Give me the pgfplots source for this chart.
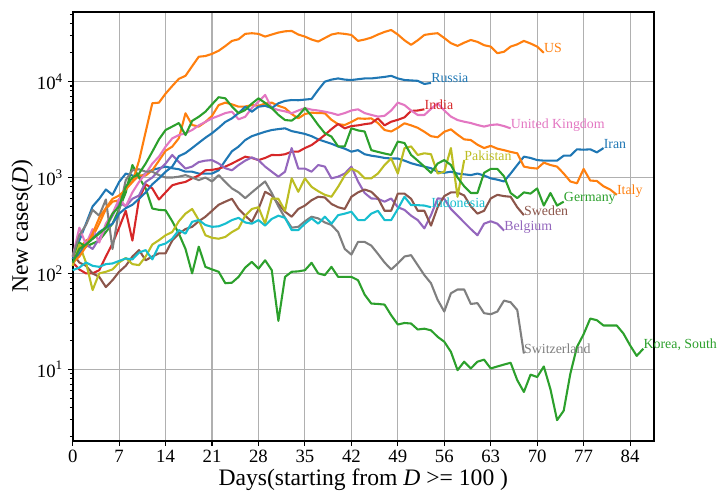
\documentclass[border=0pt]{standalone}
\usepackage{fontspec}
\setmainfont{Liberation Serif}
\usepackage{pgfplots}
\pgfplotsset{compat=1.18}
\definecolor{cblue}{HTML}{1F77B4}
\definecolor{corange}{HTML}{FF7F0E}
\definecolor{cgreen}{HTML}{2CA02C}
\definecolor{cred}{HTML}{D62728}
\definecolor{cpurple}{HTML}{9467BD}
\definecolor{cbrown}{HTML}{8C564B}
\definecolor{cpink}{HTML}{E377C2}
\definecolor{cgray}{HTML}{7F7F7F}
\definecolor{colive}{HTML}{BCBD22}
\definecolor{ccyan}{HTML}{17BECF}
\definecolor{gridc}{HTML}{B0B0B0}
\tikzset{lbl/.style={anchor=base west, inner sep=0pt, font=\fontsize{10}{12}\selectfont}}
\begin{document}
\begin{tikzpicture}
\useasboundingbox (0,0) rectangle (518.4pt,362.88pt);
\begin{axis}[
  at={(52.34pt,45.58pt)}, anchor=south west,
  scale only axis, width=418.5pt, height=308.7pt,
  ymode=log, xmin=0, xmax=87.6, ymin=1.8, ymax=53350,
  axis line style={line width=1.5pt},
  xtick={0,7,...,84},
  ytick={10,100,1000,10000},
  yticklabels={10\textsuperscript{1},10\textsuperscript{2},10\textsuperscript{3},10\textsuperscript{4}},
  minor ytick={2,3,4,5,6,7,8,9,20,30,40,50,60,70,80,90,200,300,400,500,600,700,800,900,2000,3000,4000,5000,6000,7000,8000,9000,20000,30000,40000,50000},
  tick pos=left, tick align=outside,
  major tick length=3.5pt, minor tick length=2pt,
  every tick/.style={black, line width=0.8pt},
  grid=major, major grid style={gridc, line width=0.8pt},
  ticklabel style={font=\fontsize{13.5}{15}\selectfont},
  /pgf/number format/assume math mode=true,
  xlabel={Days(starting from \textit{D} >= 100 )},
  ylabel={New cases(\textit{D})},
  xlabel style={font=\fontsize{17}{20}\selectfont, at={(axis description cs:0.5,-0.092)}, anchor=center},
  ylabel style={font=\fontsize{17}{20}\selectfont, at={(axis description cs:-0.087,0.5)}, anchor=center},
  clip=false,
  every axis plot/.append style={line width=1.5pt, line join=round, no markers},
]
% Iran
\addplot[cblue] coordinates {(0,140)(1,220)(2,330)(3,500)(4,600)(5,750)(6,660)(7,900)(8,1100)(9,1050)(10,1000)(11,1100)(12,1200)(13,1250)(14,1300)(15,1250)(16,1220)(17,1150)(18,1150)(19,1100)(20,1100)(21,1100)(22,1190)(23,1500)(24,1880)(25,2100)(26,2460)(27,2700)(28,2850)(29,3000)(30,3130)(31,3200)(32,3260)(33,3050)(34,2950)(35,2850)(36,2700)(37,2500)(38,2370)(39,2250)(40,2110)(41,2000)(42,1860)(43,1930)(44,1750)(45,1690)(46,1650)(47,1600)(48,1580)(49,1580)(50,1500)(51,1410)(52,1350)(53,1300)(54,1250)(55,1150)(56,1120)(57,1150)(58,1100)(59,1080)(60,1060)(61,1100)(62,1050)(63,980)(64,950)(65,910)(66,1100)(67,1350)(68,1650)(69,1600)(70,1520)(71,1500)(72,1500)(73,1500)(74,1690)(75,1690)(76,1970)(77,1950)(78,1970)(79,1830)(80,2030)};
% Italy
\addplot[corange] coordinates {(0,120)(1,180)(2,220)(3,240)(4,330)(5,470)(6,560)(7,580)(8,780)(9,900)(10,1050)(11,1050)(12,1190)(13,1500)(14,1900)(15,2100)(16,2570)(17,4680)(18,3530)(19,3400)(20,3800)(21,4400)(22,5700)(23,6040)(24,5800)(25,5480)(26,5500)(27,5700)(28,5600)(29,5900)(30,6040)(31,5600)(32,5300)(33,4600)(34,4140)(35,4600)(36,4750)(37,4700)(38,4680)(39,4000)(40,3600)(41,3530)(42,3800)(43,4140)(44,4100)(45,4140)(46,3700)(47,3130)(48,3020)(49,3300)(50,3680)(51,3500)(52,3300)(53,3000)(54,2700)(55,2630)(56,3000)(57,3180)(58,2800)(59,2500)(60,2460)(61,2200)(62,2030)(63,2140)(64,2000)(65,1930)(66,1850)(67,1790)(68,1300)(69,1260)(70,1240)(71,1430)(72,1350)(73,1300)(74,1100)(75,910)(76,870)(77,1230)(78,930)(79,920)(80,810)(81,750)(82,660)};
% Korea, South
\addplot[cgreen] coordinates {(0,150)(1,210)(2,190)(3,205)(4,220)(5,270)(6,330)(7,470)(8,700)(9,1350)(10,1000)(11,770)(12,475)(13,460)(14,455)(15,350)(16,260)(17,180)(18,100)(19,190)(20,117)(21,110)(22,104)(23,79)(24,80)(25,92)(26,115)(27,132)(28,112)(29,137)(30,108)(31,32)(32,92)(33,104)(34,105)(35,108)(36,129)(37,100)(38,96)(39,117)(40,92)(41,92)(42,92)(43,85)(44,60)(45,48.5)(46,48)(47,47.3)(48,36.6)(49,29.3)(50,30.4)(51,30)(52,26)(53,26.5)(54,25.5)(55,21.8)(56,19.4)(57,15.2)(58,9.8)(59,12)(60,10.2)(61,12)(62,12.6)(63,10.2)(64,10.7)(65,11.2)(66,11.7)(67,7.7)(68,5.8)(69,8.8)(70,8.3)(71,10.7)(72,6.2)(73,2.95)(74,3.7)(75,9.0)(76,17.1)(77,23.2)(78,33.8)(79,32.5)(80,28.6)(81,28.6)(82,28.6)(83,23.6)(84,17.8)(85,13.8)(86,16.4)};
% India
\addplot[cred] coordinates {(0,130)(1,110)(2,100)(3,100)(4,108)(5,150)(6,205)(7,300)(8,450)(9,220)(10,600)(11,850)(12,770)(13,590)(14,700)(15,830)(16,870)(17,900)(18,980)(19,1050)(20,1190)(21,1200)(22,1240)(23,1300)(24,1400)(25,1520)(26,1650)(27,1600)(28,1520)(29,1600)(30,1720)(31,1710)(32,1750)(33,1860)(34,1860)(35,2030)(36,2180)(37,2450)(38,2780)(39,3200)(40,3620)(41,3260)(42,3440)(43,3500)(44,3600)(45,3680)(46,4140)(47,3500)(48,3820)(49,4000)(50,4240)(51,4950)(52,5000)(53,5150)};
% Belgium
\addplot[cpurple] coordinates {(0,150)(1,170)(2,200)(3,180)(4,230)(5,300)(6,400)(7,550)(8,500)(9,600)(10,650)(11,900)(12,1000)(13,1190)(14,1400)(15,1720)(16,1450)(17,1240)(18,1300)(19,1450)(20,1500)(21,1520)(22,1400)(23,1250)(24,1190)(25,1350)(26,1500)(27,1620)(28,1520)(29,1300)(30,1150)(31,1020)(32,1150)(33,2030)(34,1240)(35,1240)(36,1150)(37,1350)(38,1300)(39,980)(40,1020)(41,1100)(42,1300)(43,910)(44,690)(45,605)(46,600)(47,560)(48,605)(49,490)(50,460)(51,400)(52,360)(53,295)(54,405)(55,605)(56,600)(57,470)(58,400)(59,340)(60,290)(61,250)(62,330)(63,350)(64,330)(65,280)};
% Sweden
\addplot[cbrown] coordinates {(0,160)(1,130)(2,120)(3,100)(4,92)(5,72)(6,85)(7,104)(8,120)(9,150)(10,175)(11,137)(12,150)(13,162)(14,162)(15,220)(16,260)(17,290)(18,306)(19,350)(20,390)(21,450)(22,520)(23,560)(24,600)(25,470)(26,400)(27,345)(28,470)(29,710)(30,650)(31,530)(32,440)(33,390)(34,470)(35,510)(36,580)(37,630)(38,620)(39,530)(40,490)(41,470)(42,630)(43,700)(44,750)(45,710)(46,610)(47,450)(48,450)(49,680)(50,680)(51,600)(52,450)(53,450)(54,315)(55,490)(56,640)(57,700)(58,700)(59,650)(60,500)(61,420)(62,450)(63,605)(64,660)(65,640)(66,630)(67,490)(68,405)};
% United Kingdom
\addplot[cpink] coordinates {(0,150)(1,300)(2,200)(3,290)(4,210)(5,330)(6,420)(7,600)(8,500)(9,700)(10,900)(11,1100)(12,1400)(13,1650)(14,2100)(15,2560)(16,2770)(17,2900)(18,3130)(19,3500)(20,3800)(21,4140)(22,4400)(23,4700)(24,4860)(25,4050)(26,4300)(27,5300)(28,6180)(29,7270)(30,5300)(31,5060)(32,4900)(33,4680)(34,5000)(35,5300)(36,5100)(37,5000)(38,4860)(39,4700)(40,4490)(41,4700)(42,5000)(43,5150)(44,4700)(45,4500)(46,4320)(47,4400)(48,5000)(49,6040)(50,5700)(51,5000)(52,4490)(53,4490)(54,5200)(55,5950)(56,5000)(57,4320)(58,3980)(59,3820)(60,3700)(61,3530)(62,3400)(63,3530)(64,3580)(65,3440)(66,3260)};
% Switzerland
\addplot[cgray] coordinates {(0,150)(1,250)(2,320)(3,460)(4,400)(5,590)(6,180)(7,460)(8,940)(9,1190)(10,1220)(11,1150)(12,1150)(13,1060)(14,1000)(15,1000)(16,1020)(17,1060)(18,1000)(19,940)(20,1000)(21,910)(22,1060)(23,900)(24,770)(25,700)(26,610)(27,700)(28,800)(29,910)(30,690)(31,500)(32,380)(33,300)(34,306)(35,350)(36,390)(37,375)(38,340)(39,320)(40,270)(41,180)(42,157)(43,213)(44,213)(45,195)(46,160)(47,130)(48,110)(49,127)(50,150)(51,155)(52,122)(53,96)(54,79)(55,53)(56,40)(57,62)(58,68)(59,68)(60,48)(61,49)(62,38.5)(63,37.5)(64,40)(65,52)(66,50)(67,41.5)(68,14.6)};
% Pakistan
\addplot[colive] coordinates {(0,120)(1,200)(2,130)(3,67)(4,100)(5,104)(6,110)(7,130)(8,145)(9,125)(10,122)(11,150)(12,200)(13,222)(14,250)(15,270)(16,350)(17,420)(18,470)(19,360)(20,250)(21,235)(22,230)(23,240)(24,270)(25,295)(26,400)(27,470)(28,490)(29,330)(30,605)(31,600)(32,450)(33,980)(34,710)(35,980)(36,800)(37,720)(38,660)(39,630)(40,800)(41,1050)(42,1240)(43,1150)(44,980)(45,980)(46,1100)(47,1350)(48,1580)(49,1100)(50,2020)(51,2110)(52,1720)(53,1790)(54,1750)(55,1100)(56,1150)(57,2030)(58,630)(59,1520)};
% Indonesia
\addplot[ccyan] coordinates {(0,108)(1,115)(2,130)(3,120)(4,117)(5,125)(6,127)(7,135)(8,143)(9,140)(10,165)(11,175)(12,140)(13,195)(14,205)(15,230)(16,283)(17,260)(18,345)(19,360)(20,320)(21,306)(22,310)(23,330)(24,360)(25,380)(26,340)(27,330)(28,360)(29,315)(30,370)(31,400)(32,380)(33,283)(34,283)(35,330)(36,375)(37,330)(38,390)(39,330)(40,405)(41,420)(42,440)(43,360)(44,360)(45,420)(46,450)(47,360)(48,360)(49,470)(50,630)(51,515)(52,515)(53,510)(54,490)};
% Russia
\addplot[cblue] coordinates {(0,130)(1,160)(2,200)(3,230)(4,270)(5,300)(6,330)(7,420)(8,480)(9,520)(10,600)(11,700)(12,850)(13,980)(14,1150)(15,1300)(16,1670)(17,1800)(18,2030)(19,2300)(20,2600)(21,2900)(22,3300)(23,3800)(24,4140)(25,4700)(26,5480)(27,4860)(28,5480)(29,5600)(30,5300)(31,5950)(32,6300)(33,6430)(34,6400)(35,6500)(36,6600)(37,8200)(38,10000)(39,10500)(40,10800)(41,10500)(42,10400)(43,10600)(44,10800)(45,10800)(46,11000)(47,11200)(48,11500)(49,10800)(50,10400)(51,10300)(52,10200)(53,9460)(54,9700)};
% US
\addplot[corange] coordinates {(0,130)(1,150)(2,190)(3,260)(4,380)(5,480)(6,600)(7,650)(8,750)(9,900)(10,1500)(11,3000)(12,5950)(13,6040)(14,7500)(15,9000)(16,10700)(17,11500)(18,14500)(19,18200)(20,18500)(21,19500)(22,21000)(23,23500)(24,26600)(25,27700)(26,31500)(27,32000)(28,31500)(29,29500)(30,31000)(31,32500)(32,33500)(33,33800)(34,31000)(35,29500)(36,27500)(37,26200)(38,28500)(39,31000)(40,32000)(41,31500)(42,30700)(43,26600)(44,27500)(45,28800)(46,31000)(47,33000)(48,34600)(49,31000)(50,27000)(51,24200)(52,27000)(53,30700)(54,31500)(55,32000)(56,28500)(57,25200)(58,23600)(59,25500)(60,27200)(61,26000)(62,24000)(63,23200)(64,19800)(65,20500)(66,23200)(67,24500)(68,26600)(69,25000)(70,23200)(71,20000)};
% Germany
\addplot[cgreen] coordinates {(0,130)(1,180)(2,200)(3,230)(4,260)(5,300)(6,420)(7,500)(8,800)(9,1000)(10,1100)(11,1400)(12,1860)(13,2500)(14,3130)(15,3400)(16,3700)(17,2770)(18,3900)(19,4300)(20,4860)(21,5800)(22,6880)(23,6700)(24,5500)(25,4680)(26,5060)(27,5900)(28,6700)(29,6000)(30,5300)(31,4500)(32,3980)(33,3920)(34,4400)(35,5300)(36,4400)(37,3530)(38,2900)(39,2670)(40,2110)(41,2110)(42,3260)(43,3100)(44,3020)(45,1930)(46,1850)(47,1780)(48,1720)(49,2370)(50,2290)(51,1720)(52,1500)(53,1300)(54,1120)(55,1400)(56,1520)(57,1350)(58,1000)(59,810)(60,690)(61,690)(62,1120)(63,1230)(64,1230)(65,1030)(66,690)(67,610)(68,700)(69,680)(70,770)(71,510)(72,690)(73,510)(74,560)};
\node[lbl, text=corange] at (axis cs:71,20000) {US};
\node[lbl, text=cblue] at (axis cs:54,9700) {Russia};
\node[lbl, text=cred] at (axis cs:53,5150) {India};
\node[lbl, text=cpink] at (axis cs:66,3260) {United Kingdom};
\node[lbl, text=cblue] at (axis cs:80,2030) {Iran};
\node[lbl, text=colive] at (axis cs:59,1520) {Pakistan};
\node[lbl, text=corange] at (axis cs:82,660) {Italy};
\node[lbl, text=cgreen] at (axis cs:74,560) {Germany};
\node[lbl, text=ccyan] at (axis cs:54,490) {Indonesia};
\node[lbl, text=cbrown] at (axis cs:68,405) {Sweden};
\node[lbl, text=cpurple] at (axis cs:65,280) {Belgium};
\node[lbl, text=cgray] at (axis cs:68,14.6) {Switzerland};
\node[lbl, text=cgreen] at (axis cs:86,16.4) {Korea, South};
\end{axis}
\end{tikzpicture}
\end{document}
